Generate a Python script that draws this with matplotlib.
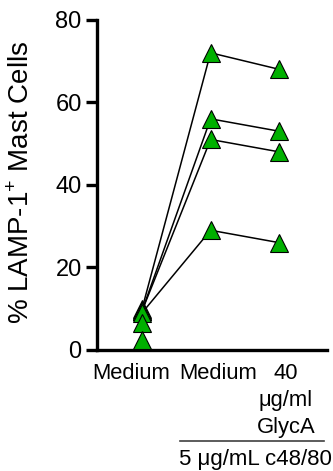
import matplotlib.pyplot as plt
from matplotlib.transforms import blended_transform_factory

plt.rcParams['font.family'] = ['Liberation Sans', 'DejaVu Sans']
plt.rcParams['mathtext.fontset'] = 'custom'
plt.rcParams['mathtext.rm'] = 'Liberation Sans'

group_labels = ['Medium', 'Medium', '40\nμg/ml\nGlycA']
label_x = [-0.16, 1.11, 2.10]
yticks = [0, 20, 40, 60, 80]

# paired donors: unstimulated, c48/80 alone, c48/80 + GlycA
medium_paired = [10, 9.5, 9.5, 9]
c48_medium = [72, 56, 51, 29]
c48_glyca = [68, 53, 48, 26]
# extra unstimulated wells without a pair
medium_extra = [6.5, 2.5]

green = '#00b000'

fig = plt.figure(figsize=(3.33, 4.71), dpi=100)
ax = fig.add_axes([0.291, 0.257, 0.691, 0.701])

for a, b, c in zip(medium_paired, c48_medium, c48_glyca):
    ax.plot([0, 1, 2], [a, b, c], color='black', lw=1.1, zorder=2, clip_on=False)

marker = dict(marker='^', ms=13, mfc=green, mec='black', mew=0.8,
              linestyle='none', zorder=3, clip_on=False)
ax.plot([0] * len(medium_paired), medium_paired, **marker)
ax.plot([0] * len(medium_extra), medium_extra, **marker)
ax.plot([1] * len(c48_medium), c48_medium, **marker)
ax.plot([2] * len(c48_glyca), c48_glyca, **marker)

ax.set_xlim(-0.66, 2.7)
ax.set_ylim(0, 80)
ax.set_yticks(yticks)
ax.set_xticks([])
ax.tick_params(axis='y', length=8, width=2.4, labelsize=17, pad=3)

for s in ['top', 'right']:
    ax.spines[s].set_visible(False)
for s in ['left', 'bottom']:
    ax.spines[s].set_linewidth(2.4)

tr = blended_transform_factory(ax.transData, ax.transAxes)
for x, lab in zip(label_x, group_labels):
    ax.text(x, -0.040, lab, fontsize=15.8, ha='center', va='top',
            linespacing=1.38, transform=tr)

fig.text(22 / 333, 1 - 182 / 471, r'% LAMP-1$^{+}$ Mast Cells', fontsize=20,
         rotation=90, ha='center', va='center')

ax.plot([0.56, 2.65], [-0.276, -0.276], color='#404040', lw=1.2,
        transform=tr, clip_on=False)
ax.text(1.66, -0.333, '5 μg/mL c48/80', fontsize=16, ha='center', va='center',
        transform=tr)

fig.savefig('out.png', dpi=100)
